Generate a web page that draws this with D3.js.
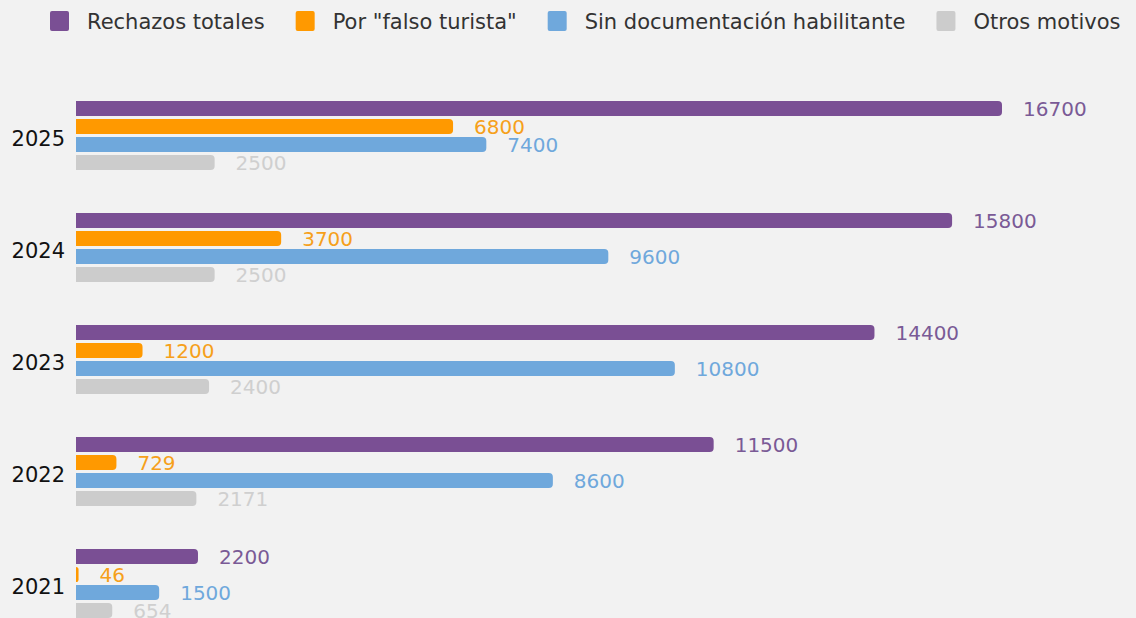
<!DOCTYPE html>
<html>
<head>
<meta charset="utf-8">
<script src="https://cdn.jsdelivr.net/npm/d3@7"></script>
<style>
  html, body { margin: 0; padding: 0; background: #f2f2f2; }
  svg { display: block; font-family: "DejaVu Sans", sans-serif; }
</style>
</head>
<body>
<div id="chart"></div>
<script>
const years = ["2025", "2024", "2023", "2022", "2021"];
const seriesNames = ["Rechazos totales", "Por \"falso turista\"", "Sin documentación habilitante", "Otros motivos"];
const totales     = [16700, 15800, 14400, 11500, 2200];
const falsoTurista = [6800, 3700, 1200, 729, 46];
const sinDocs     = [7400, 9600, 10800, 8600, 1500];
const otros       = [2500, 2500, 2400, 2171, 654];

const barColors   = ["#7a4f94", "#ff9900", "#6fa8dc", "#cccccc"];
const labelColors = ["#7a5a96", "#f6a01a", "#6fa8dc", "#cfcfcf"];

const W = 1136, H = 618;
const left = 76;

const svg = d3.select("#chart").append("svg")
  .attr("width", W).attr("height", H);

const seriesValues = [totales, falsoTurista, sinDocs, otros];
const data = years.map((y, i) => ({
  year: y,
  values: seriesValues.map((s, k) => ({ key: k, value: s[i] }))
}));

const x = d3.scaleLinear().domain([0, 16700]).range([left, 1002]);

const y0 = d3.scaleBand().domain(years).range([101, 101 + 112 * 5]);
const y1 = d3.scaleBand().domain(d3.range(4)).range([0, 69]).paddingInner(1 / 6);

// bar with rounded right end
function barPath(x0, y, w, h, r) {
  r = Math.min(r, w, h / 2);
  return `M${x0},${y}H${x0 + w - r}Q${x0 + w},${y} ${x0 + w},${y + r}` +
         `V${y + h - r}Q${x0 + w},${y + h} ${x0 + w - r},${y + h}H${x0}Z`;
}

const groups = svg.selectAll(".group")
  .data(data)
  .enter().append("g")
  .attr("class", "group")
  .attr("transform", d => `translate(0,${y0(d.year)})`);

groups.append("text")
  .attr("x", 65)
  .attr("y", 69 / 2 + 3)
  .attr("dy", "0.35em")
  .attr("text-anchor", "end")
  .style("font-size", "21px")
  .style("fill", "#111")
  .text(d => d.year);

groups.selectAll("path")
  .data(d => d.values)
  .enter().append("path")
  .attr("d", d => barPath(x(0), y1(d.key), x(d.value) - x(0), y1.bandwidth(), 4))
  .attr("fill", d => barColors[d.key]);

groups.selectAll(".val")
  .data(d => d.values)
  .enter().append("text")
  .attr("class", "val")
  .attr("x", d => x(d.value) + 21)
  .attr("y", d => y1(d.key) + y1.bandwidth() / 2)
  .attr("dy", "0.36em")
  .style("font-size", "20px")
  .style("fill", d => labelColors[d.key])
  .text(d => d.value);

// legend
const legend = svg.append("g").attr("class", "legend");
let lx = 50;
seriesNames.forEach((name, k) => {
  legend.append("rect")
    .attr("x", lx).attr("y", 11)
    .attr("width", 19).attr("height", 20)
    .attr("rx", 2)
    .attr("fill", barColors[k]);
  const t = legend.append("text")
    .attr("x", lx + 37).attr("y", 22)
    .attr("dy", "0.35em")
    .style("font-size", "21px")
    .style("fill", "#333")
    .text(name);
  lx += 37 + t.node().getComputedTextLength() + 31;
});
</script>
</body>
</html>
